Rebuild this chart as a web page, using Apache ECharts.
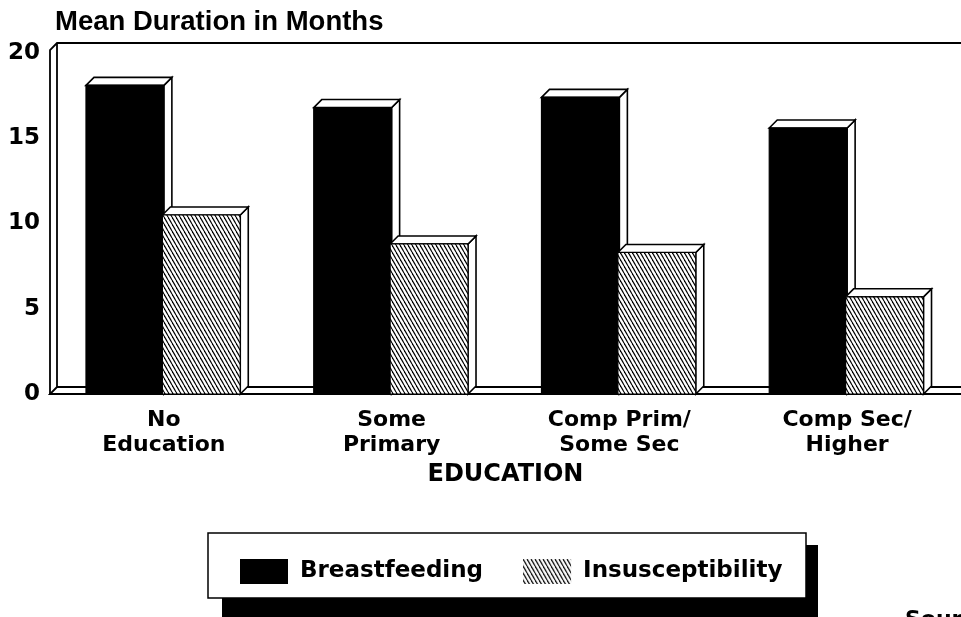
<!DOCTYPE html>
<html>
<head>
<meta charset="utf-8">
<title>Mean Duration in Months by Education</title>
<script src="https://cdn.jsdelivr.net/npm/echarts@6/dist/echarts.min.js"></script>
<style>
  html, body { margin: 0; padding: 0; background: #fff; }
  #chart { width: 961px; height: 617px; }
</style>
</head>
<body>
<div id="chart"></div>
<script>
// data
var categories = ['No\nEducation', 'Some\nPrimary', 'Comp Prim/\nSome Sec', 'Comp Sec/\nHigher'];
var breastfeeding = [18.1, 16.8, 17.4, 15.6];
var insusceptibility = [10.5, 8.8, 8.3, 5.7];
var seriesNames = ['Breastfeeding', 'Insusceptibility'];

var FONT = 'DejaVu Sans';
var DEPTH = 8;
var GRID_LEFT = 50;

// diagonal hatch used for the second series
function makeHatch() {
    var c = document.createElement('canvas');
    c.width = 4;
    c.height = 7;
    var ctx = c.getContext('2d');
    ctx.fillStyle = '#fff';
    ctx.fillRect(0, 0, 4, 7);
    ctx.strokeStyle = '#000';
    ctx.lineWidth = 1.2;
    [-4, 0, 4].forEach(function (dx) {
        ctx.beginPath();
        ctx.moveTo(dx, 0);
        ctx.lineTo(dx + 4, 7);
        ctx.stroke();
    });
    return { image: c, repeat: 'repeat' };
}
var hatch = makeHatch();

// a bar with a white top face and side face, like the printed figure
function barRenderer(side, fill) {
    return function (params, api) {
        var base = api.coord([api.value(0), 0]);
        var top = api.coord([api.value(0), api.value(1)]);
        var band = api.size([1, 0])[0];
        var w = band * 0.342;
        var x0 = side === 0 ? base[0] - w : base[0] - 1.5;
        var x1 = x0 + w;
        var y0 = base[1], y1 = top[1];
        var edge = { fill: '#fff', stroke: '#000', lineWidth: 1.6 };
        return {
            type: 'group',
            children: [
                { type: 'polygon', shape: { points: [[x1, y1], [x1 + DEPTH, y1 - DEPTH], [x1 + DEPTH, y0 - DEPTH], [x1, y0]] }, style: edge },
                { type: 'polygon', shape: { points: [[x0, y1], [x0 + DEPTH, y1 - DEPTH], [x1 + DEPTH, y1 - DEPTH], [x1, y1]] }, style: edge },
                { type: 'rect', shape: { x: x0, y: y1, width: w, height: y0 - y1 }, style: { fill: fill, stroke: '#000', lineWidth: 1.2 } }
            ]
        };
    };
}

var chart = echarts.init(document.getElementById('chart'));
var option = {
    animation: false,
    backgroundColor: '#fff',
    title: {
        text: 'Mean Duration in Months',
        left: 55,
        top: 8,
        padding: 0,
        textStyle: { fontFamily: 'Liberation Sans', fontSize: 27.5, fontWeight: 'bold', color: '#000' }
    },
    legend: {
        left: 235,
        top: 554,
        itemWidth: 48,
        itemHeight: 25,
        itemGap: 40,
        icon: 'rect',
        z: 10,
        textStyle: { fontFamily: FONT, fontSize: 23, fontWeight: 'bold', color: '#000', padding: [0, 0, 0, 7] },
        data: [
            { name: seriesNames[0], itemStyle: { color: '#000' } },
            { name: seriesNames[1], itemStyle: { color: hatch } }
        ]
    },
    grid: { left: GRID_LEFT, width: 912, top: 53, bottom: 223 },
    xAxis: {
        type: 'category',
        data: categories,
        name: 'EDUCATION',
        nameLocation: 'middle',
        nameGap: 69,
        nameTextStyle: { fontFamily: FONT, fontSize: 24, fontWeight: 'bold', color: '#000' },
        axisLine: { show: false },
        axisTick: { show: false },
        axisLabel: { fontFamily: FONT, fontSize: 22, fontWeight: 'bold', color: '#000', lineHeight: 25, margin: 14 }
    },
    yAxis: {
        type: 'value',
        min: 0,
        max: 20,
        interval: 5,
        axisLine: { show: false },
        axisTick: { show: false },
        splitLine: { show: false },
        axisLabel: { fontFamily: FONT, fontSize: 23, fontWeight: 'bold', color: '#000', margin: 10 }
    },
    series: [
        {
            name: seriesNames[0],
            type: 'custom',
            itemStyle: { color: '#000' },
            renderItem: barRenderer(0, '#000'),
            data: breastfeeding.map(function (v, i) { return [i, v]; })
        },
        {
            name: seriesNames[1],
            type: 'custom',
            itemStyle: { color: hatch },
            renderItem: barRenderer(1, hatch),
            data: insusceptibility.map(function (v, i) { return [i, v]; })
        }
    ]
};
chart.setOption(option);

// the box round the plot and the legend frame with its shadow
var y0 = chart.convertToPixel({ yAxisIndex: 0 }, 0);
var y20 = chart.convertToPixel({ yAxisIndex: 0 }, 20);
var L = GRID_LEFT, R = 961, d = 7;
var line = { stroke: '#000', lineWidth: 1.8, fill: null };
chart.setOption({
    graphic: [
        { type: 'polyline', z: 0, shape: { points: [[L, y0], [L, y20 - 3], [L + d, y20 - 10], [R, y20 - 10]] }, style: line },
        { type: 'polyline', z: 0, shape: { points: [[L + d, y20 - 10], [L + d, y0 - d], [R, y0 - d]] }, style: line },
        { type: 'polyline', z: 0, shape: { points: [[L + d, y0 - d], [L, y0], [R, y0]] }, style: line },
        { type: 'rect', z: 1, shape: { x: 222, y: 545, width: 596, height: 80 }, style: { fill: '#000' } },
        { type: 'rect', z: 1, shape: { x: 208, y: 533, width: 598, height: 65 }, style: { fill: '#fff', stroke: '#000', lineWidth: 1.5 } },
        { type: 'text', z: 1, left: 905, top: 609, style: { text: 'Source', fontFamily: FONT, fontSize: 22, fontWeight: 'bold', fill: '#000' } }
    ]
});
</script>
</body>
</html>
